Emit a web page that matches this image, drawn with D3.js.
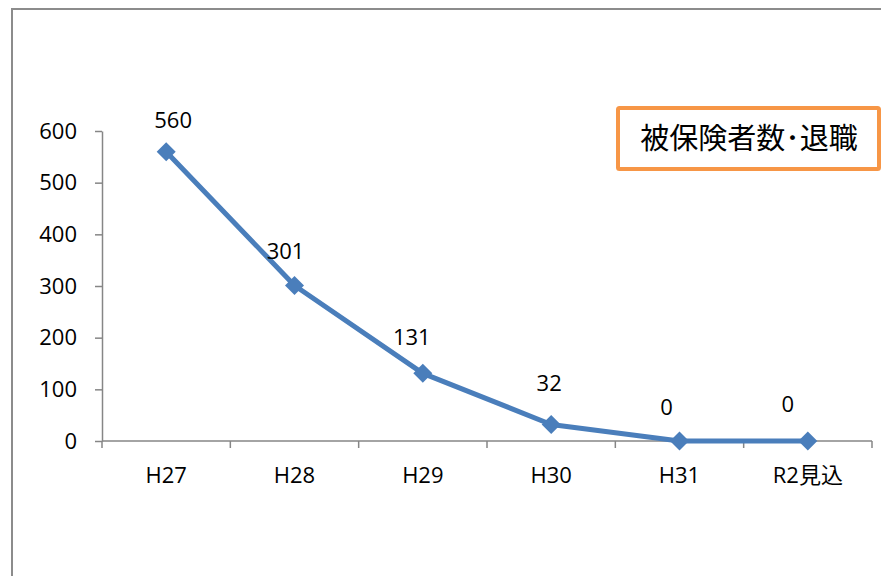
<!DOCTYPE html>
<html lang="ja">

<head>
    <meta charset="UTF-8">
    <title>被保険者数・退職</title>
    <script src="https://unpkg.com/d3@7.8.5/dist/d3.min.js"></script>
    <style>
        body { margin: 0; background: #fff; }
        svg { display: block; }
        text { font-family: "Open Sans", "Noto Sans CJK JP", sans-serif; fill: #000; }
    </style>
</head>

<body>
    <svg width="881" height="576"></svg>
    <script>
        // data
        var categories = ['H27', 'H28', 'H29', 'H30', 'H31', 'R2見込']
        var values = [560, 301, 131, 32, 0, 0]
        var yTicks = [0, 100, 200, 300, 400, 500, 600]
        var title = '被保険者数･退職'

        // label nudges (Excel labels were dragged by hand)
        var labelNudge = [[7, -24], [-9, -26], [-11, -28], [-2, -33], [-13, -26], [-20, -29]]

        var svg = d3.select('svg')
        var axisColor = '#868686'
        var lineColor = '#4A7EBB'
        var fontSize = 22

        // chart area frame
        svg.append('rect')
            .attr('x', 12).attr('y', 9)
            .attr('width', 1000).attr('height', 1000)
            .attr('fill', 'none')
            .attr('stroke', '#8c8c8c')
            .attr('stroke-width', 2)

        var x = d3.scaleBand().domain(categories).range([102, 872])
        var y = d3.scaleLinear().domain([0, 600]).range([441, 131])

        // y axis
        var yAxis = svg.append('g')
            .attr('transform', 'translate(102,0)')
            .call(d3.axisLeft(y).tickValues(yTicks).tickSize(7).tickSizeOuter(0).tickPadding(18))
        yAxis.selectAll('line, path').attr('stroke', axisColor).attr('stroke-width', 1.5)
        yAxis.selectAll('text').attr('font-size', fontSize)

        // x axis (ticks between categories)
        var xAxis = svg.append('g').attr('transform', 'translate(0,441)')
        xAxis.append('line')
            .attr('x1', x.range()[0]).attr('x2', x.range()[1])
            .attr('stroke', axisColor).attr('stroke-width', 1.5)
        var bounds = categories.map(c => x(c)).concat([x.range()[1]])
        xAxis.selectAll('.tick').data(bounds).enter()
            .append('line')
            .attr('x1', d => d).attr('x2', d => d)
            .attr('y1', 0).attr('y2', 7)
            .attr('stroke', axisColor).attr('stroke-width', 1.5)
        xAxis.selectAll('text').data(categories).enter()
            .append('text')
            .attr('x', d => x(d) + x.bandwidth() / 2)
            .attr('y', 42)
            .attr('text-anchor', 'middle')
            .attr('font-size', fontSize)
            .text(d => d)

        // line + markers
        var px = (d, i) => x(categories[i]) + x.bandwidth() / 2
        var line = d3.line().x(px).y(d => y(d))
        svg.append('path')
            .datum(values)
            .attr('d', line)
            .attr('fill', 'none')
            .attr('stroke', lineColor)
            .attr('stroke-width', 5)
            .attr('stroke-linejoin', 'round')

        var r = 9.5
        var diamond = 'M0,' + (-r) + 'L' + r + ',0L0,' + r + 'L' + (-r) + ',0Z'
        svg.selectAll('.marker').data(values).enter()
            .append('path')
            .attr('class', 'marker')
            .attr('d', diamond)
            .attr('transform', (d, i) => 'translate(' + px(d, i) + ',' + y(d) + ')')
            .attr('fill', lineColor)

        // data labels
        svg.selectAll('.lbl').data(values).enter()
            .append('text')
            .attr('class', 'lbl')
            .attr('x', (d, i) => px(d, i) + labelNudge[i][0])
            .attr('y', (d, i) => y(d) + labelNudge[i][1])
            .attr('text-anchor', 'middle')
            .attr('font-size', fontSize)
            .text(d => d)

        // title box
        var box = svg.append('g').attr('transform', 'translate(618,108)')
        box.append('rect')
            .attr('width', 261).attr('height', 61)
            .attr('fill', '#fff')
            .attr('stroke', '#F79646')
            .attr('stroke-width', 4)
            .attr('rx', 1.5)
        box.append('text')
            .attr('x', 131).attr('y', 31)
            .attr('dy', '0.36em')
            .attr('text-anchor', 'middle')
            .attr('font-size', 29)
            .style('font-family', '"Noto Sans CJK JP", sans-serif')
            .text(title)
    </script>
</body>

</html>
